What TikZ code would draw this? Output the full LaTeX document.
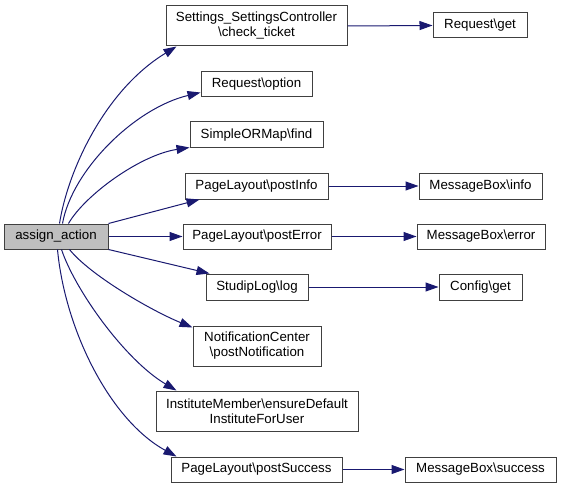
\documentclass[tikz,border=0pt]{standalone}
\usepackage{fontspec}
\setmainfont{Liberation Sans}
\usetikzlibrary{arrows.meta,calc}
\definecolor{edgeblue}{HTML}{191970}
\definecolor{boxline}{HTML}{404040}
\definecolor{rootfill}{HTML}{BFBFBF}
\begin{document}
\begin{tikzpicture}[x=1pt,y=-1pt,
  fn/.style={draw=boxline,line width=1pt,fill=white,inner sep=0pt,align=center,
    font=\fontsize{13.3}{15}\selectfont},
  call/.style={draw=edgeblue,line width=1pt,-{Triangle[length=13pt,width=9pt]}}]
\useasboundingbox (0,0) rectangle (561,489);
% nodes
\node[fn,fill=rootfill,minimum width=104pt,minimum height=25pt] (assign) at (56,236.5) {assign\_action};
\node[fn,minimum width=181pt,minimum height=40pt] (settings) at (256.5,26) {Settings\_SettingsController\\\textbackslash check\_ticket};
\node[fn,minimum width=94pt,minimum height=25pt] (reqget) at (480,25.5) {Request\textbackslash get};
\node[fn,minimum width=111pt,minimum height=25pt] (reqopt) at (256.5,84.5) {Request\textbackslash option};
\node[fn,minimum width=133pt,minimum height=26pt] (find) at (256.5,135) {SimpleORMap\textbackslash find};
\node[fn,minimum width=143pt,minimum height=26pt] (postinfo) at (256.5,186) {PageLayout\textbackslash postInfo};
\node[fn,minimum width=123pt,minimum height=26pt] (mbinfo) at (480.5,186) {MessageBox\textbackslash info};
\node[fn,minimum width=148pt,minimum height=25pt] (posterror) at (257,236.5) {PageLayout\textbackslash postError};
\node[fn,minimum width=128pt,minimum height=25pt] (mberror) at (481,236.5) {MessageBox\textbackslash error};
\node[fn,minimum width=102pt,minimum height=26pt] (log) at (257,287) {StudipLog\textbackslash log};
\node[fn,minimum width=83pt,minimum height=26pt] (configget) at (480.5,287) {Config\textbackslash get};
\node[fn,minimum width=128pt,minimum height=40pt] (notif) at (257,346) {NotificationCenter\\\textbackslash postNotification};
\node[fn,minimum width=202pt,minimum height=40pt] (inst) at (257,411) {InstituteMember\textbackslash ensureDefault\\InstituteForUser};
\node[fn,minimum width=171pt,minimum height=25pt] (postsucc) at (256.5,469.5) {PageLayout\textbackslash postSuccess};
\node[fn,minimum width=151pt,minimum height=25pt] (mbsucc) at (480.5,469.5) {MessageBox\textbackslash success};
% edges from assign_action
\draw[call] ($(assign.north west)+(56,0)$) .. controls (68,170) and (105,90) .. ($(settings.south west)+(11,0)$);
\draw[call] ($(assign.north west)+(59,0)$) .. controls (72,170) and (135,108) .. ($(reqopt.south west)+(0,-5)$);
\draw[call] ($(assign.north west)+(65,0)$) .. controls (85,195) and (140,155) .. ($(find.south west)+(0,-1)$);
\draw[call] (assign.north east) -- ($(postinfo.south west)+(15,0)$);
\draw[call] (assign.east) -- (posterror.west);
\draw[call] (assign.south east) -- ($(log.north west)+(4,0)$);
\draw[call] ($(assign.south west)+(66,0)$) .. controls (90,275) and (150,310) .. ($(notif.north west)+(0,2)$);
\draw[call] ($(assign.south west)+(58,0)$) .. controls (75,290) and (125,360) .. ($(inst.north west)+(21,0)$);
\draw[call] ($(assign.south west)+(54,0)$) .. controls (65,330) and (110,420) .. ($(postsucc.north west)+(6,0)$);
% second-level edges
\draw[call] (settings.east) -- (reqget.west);
\draw[call] (postinfo.east) -- (mbinfo.west);
\draw[call] (posterror.east) -- (mberror.west);
\draw[call] (log.east) -- (configget.west);
\draw[call] (postsucc.east) -- (mbsucc.west);
\end{tikzpicture}
\end{document}
